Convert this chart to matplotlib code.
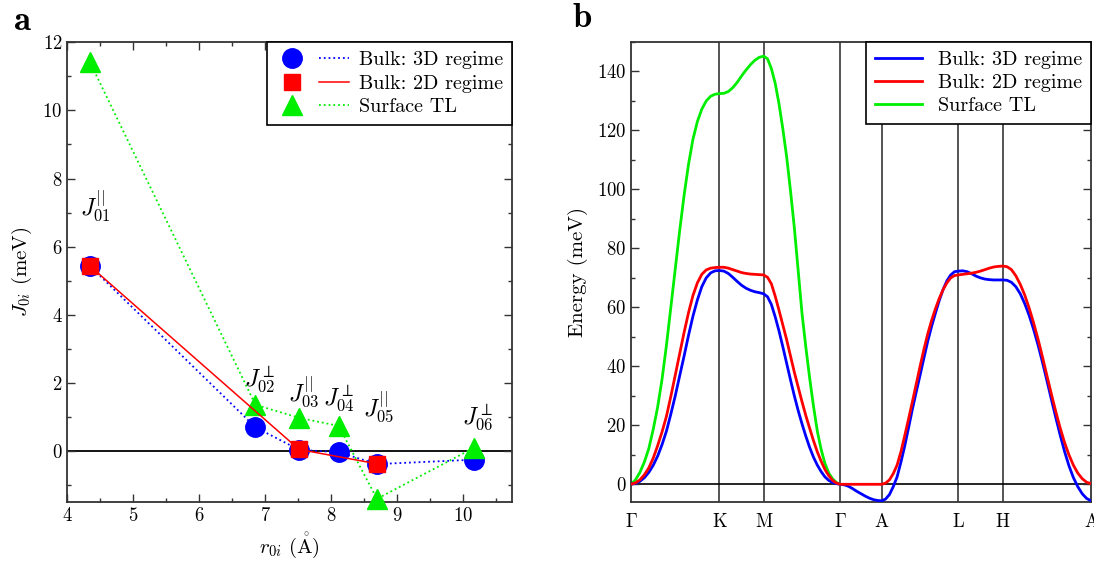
import numpy as np
import matplotlib
matplotlib.use("Agg")
import matplotlib.pyplot as plt
from matplotlib.lines import Line2D
from matplotlib.legend_handler import HandlerTuple
from matplotlib.ticker import MultipleLocator

plt.rcParams["font.family"] = "serif"
plt.rcParams["font.serif"] = ["cmr10"]
plt.rcParams["mathtext.fontset"] = "cm"
plt.rcParams["axes.unicode_minus"] = False
plt.rcParams["axes.formatter.use_mathtext"] = True

# ---- panel a: exchange constants vs distance ----
r_3d = [4.34, 6.85, 7.51, 8.11, 8.69, 10.16]
j_3d = [5.44, 0.70, 0.04, -0.03, -0.38, -0.25]

r_2d = [4.34, 7.51, 8.69]
j_2d = [5.44, 0.05, -0.37]

r_surf = [4.34, 6.85, 7.51, 8.11, 8.69, 10.16]
j_surf = [11.43, 1.36, 0.98, 0.74, -1.40, 0.10]

j_labels = [r"$J_{01}^{||}$", r"$J_{02}^{\perp}$", r"$J_{03}^{||}$",
            r"$J_{04}^{\perp}$", r"$J_{05}^{||}$", r"$J_{06}^{\perp}$"]
j_label_x = [4.42, 6.92, 7.58, 8.11, 8.71, 10.21]
j_label_y = [7.2, 2.1, 1.75, 1.55, 1.3, 1.0]

# ---- panel b: magnon dispersion along the k-path ----
kpath_labels = [r"$\Gamma$", "K", "M", r"$\Gamma$", "A", "L", "H", "A"]
kpath_pos = [0.0, 4.189, 6.283, 9.911, 11.874, 15.502, 17.596, 21.785]

# energies (meV) read along each path segment, evenly spaced in k
bulk3d_segments = [
    [0, 0.3, 1.0, 2.2, 4.0, 6.4, 9.5, 13.4, 18, 23.8, 30, 36.8, 43.5,
     50.5, 57, 62.5, 67, 70, 71.7, 72.4, 72.5],                          # G-K
    [72.5, 72.3, 71.5, 70.2, 68.8, 67.5, 66.5, 65.8, 65.3, 65.0, 64.6],  # K-M
    [64.6, 63.6, 61, 56.8, 52, 46.6, 41, 35.4, 30, 25, 20.5, 16.3, 12.5,
     9.2, 6.5, 4.3, 2.5, 1.3, 0.6, 0.2, 0],                              # M-G
    [0, -0.2, -0.7, -1.5, -2.4, -3.2, -4.0, -4.7, -5.2, -5.5, -5.6],     # G-A
    [-5.6, -5.0, -3.5, -0.8, 2.5, 7.5, 13, 19.2, 25.5, 31.3, 37, 42.8,
     48.5, 53.5, 58, 62.3, 66, 69, 71, 72.1, 72.3],                      # A-L
    [72.3, 72.4, 72.1, 71.4, 70.6, 70.0, 69.6, 69.4, 69.3, 69.3, 69.3],  # L-H
    [69.3, 69.2, 68.5, 67.0, 64.6, 61.3, 57.3, 52.6, 47.3, 41.5, 35.3,
     29.0, 22.8, 16.8, 11.2, 6.3, 2.3, -0.8, -3.2, -4.8, -5.6],          # H-A
]
bulk2d_segments = [
    [0, 0.5, 1.5, 3.2, 5.5, 8.8, 13, 17.7, 23, 29.8, 37, 44.3, 51.5,
     58.2, 64, 68.3, 71.2, 72.7, 73.3, 73.5, 73.6],
    [73.6, 73.6, 73.3, 72.8, 72.3, 71.8, 71.5, 71.3, 71.2, 71.1, 71.0],
    [71.0, 70.2, 68, 63.8, 59, 54, 49, 43.5, 38, 33, 28, 23.3, 19, 14.8,
     11, 7.8, 5, 2.9, 1.3, 0.4, 0],
    [0, 0, 0, 0, 0, 0, 0, 0, 0, 0, 0],
    [0, 0.4, 1.5, 3.6, 6.5, 11, 16.5, 22.2, 28, 34, 40, 45.7, 51, 55.5,
     59.5, 63, 66, 68.3, 70, 70.8, 71],
    [71.0, 71.2, 71.4, 71.6, 71.9, 72.3, 72.8, 73.3, 73.7, 73.9, 74.0],
    [74.0, 73.8, 72.8, 70.7, 67.8, 64.2, 59.8, 54.8, 49.3, 43.3, 37.0,
     30.8, 24.8, 19.2, 14.2, 10.0, 6.5, 3.8, 1.9, 0.7, 0.2],
]
surface_segments = [
    [0, 1.5, 4, 7.5, 12, 18.5, 26, 35.5, 47, 60, 73, 86, 98, 108.5, 117,
     123, 127.2, 130, 131.6, 132.3, 132.5],
    [132.5, 132.6, 133.2, 134.5, 136.3, 138.5, 140.5, 142.3, 143.8, 144.8, 145.2],
    [145.2, 144.3, 141, 136, 129, 120.5, 111, 99.5, 87, 72.5, 58, 46.5, 36,
     26.5, 18, 11.8, 7, 3.8, 1.8, 0.6, 0],
]

BLUE = "#0000ff"
RED = "#ff0000"
GREEN = "#00ee00"


def path_curve(segments):
    ks, es = [], []
    for i, seg in enumerate(segments):
        ks.append(np.linspace(kpath_pos[i], kpath_pos[i + 1], len(seg)))
        es.append(np.array(seg, dtype=float))
    return np.concatenate(ks), np.concatenate(es)


def style_axes(ax):
    for sp in ax.spines.values():
        sp.set_linewidth(1.3)
        sp.set_color("0.2")
    ax.tick_params(which="both", direction="in", top=True, right=True,
                   width=1.0, labelsize=13.5, color="0.2")
    ax.tick_params(which="major", length=6)
    ax.tick_params(which="minor", length=3)


fig = plt.figure(figsize=(10.94, 5.66), dpi=100)
ax_a = fig.add_axes([0.0615, 0.1126, 0.4068, 0.8127])
ax_b = fig.add_axes([0.5768, 0.1131, 0.4205, 0.8127])

# panel a
ax_a.axhline(0, color="black", lw=1.3, zorder=1)
ax_a.plot(r_3d, j_3d, ls=":", lw=1.3, color=BLUE, marker="o", ms=14,
          zorder=2, clip_on=False)
ax_a.plot(r_surf, j_surf, ls=":", lw=1.3, color=GREEN, marker="^", ms=14,
          zorder=3, clip_on=False)
ax_a.plot(r_2d, j_2d, ls="-", lw=1.1, color=RED, marker="s", ms=12,
          zorder=4, clip_on=False)

for lab, x, y in zip(j_labels, j_label_x, j_label_y):
    ax_a.text(x, y, lab, fontsize=17, ha="center", va="center")

ax_a.set_xlim(4, 10.74)
ax_a.set_ylim(-1.5, 12)
ax_a.xaxis.set_major_locator(MultipleLocator(1))
ax_a.xaxis.set_minor_locator(MultipleLocator(0.5))
ax_a.yaxis.set_major_locator(MultipleLocator(2))
ax_a.yaxis.set_minor_locator(MultipleLocator(1))
style_axes(ax_a)
ax_a.set_xlabel(r"$r_{0i}\ (\mathring{\mathrm{A}})$", fontsize=15, labelpad=4)
ax_a.set_ylabel(r"$J_{0i}$ (meV)", fontsize=15, labelpad=6)

leg_handles = [
    (Line2D([], [], ls="none", marker="o", ms=14, color=BLUE),
     Line2D([], [], ls=":", lw=1.3, color=BLUE)),
    (Line2D([], [], ls="none", marker="s", ms=12, color=RED),
     Line2D([], [], ls="-", lw=1.1, color=RED)),
    (Line2D([], [], ls="none", marker="^", ms=14, color=GREEN),
     Line2D([], [], ls=":", lw=1.3, color=GREEN)),
]
leg_a = ax_a.legend(leg_handles, ["Bulk: 3D regime", "Bulk: 2D regime", "Surface TL"],
                    handler_map={tuple: HandlerTuple(ndivide=None, pad=0.6)},
                    loc="upper right", borderaxespad=0, fancybox=False,
                    edgecolor="black", framealpha=1, fontsize=14.5,
                    handlelength=3.6, handletextpad=0.5, labelspacing=0.25,
                    borderpad=0.45)
leg_a.get_frame().set_linewidth(1.2)
leg_a.set_zorder(10)

# panel b
for k in kpath_pos[1:-1]:
    ax_b.axvline(k, color="0.15", lw=1.1, zorder=1)
ax_b.axhline(0, color="black", lw=1.2, zorder=1)

k3, e3 = path_curve(bulk3d_segments)
k2, e2 = path_curve(bulk2d_segments)
ks, es = path_curve(surface_segments)
ax_b.plot(k3, e3, color=BLUE, lw=2.0, label="Bulk: 3D regime", zorder=3)
ax_b.plot(k2, e2, color=RED, lw=2.0, label="Bulk: 2D regime", zorder=4)
ax_b.plot(ks, es, color=GREEN, lw=2.0, label="Surface TL", zorder=2)

ax_b.set_xlim(kpath_pos[0], kpath_pos[-1])
ax_b.set_ylim(-6, 150)
ax_b.yaxis.set_major_locator(MultipleLocator(20))
ax_b.yaxis.set_minor_locator(MultipleLocator(10))
style_axes(ax_b)
ax_b.set_xticks(kpath_pos)
ax_b.set_xticklabels(kpath_labels)
ax_b.tick_params(axis="x", which="both", length=0, pad=8, labelsize=13.5, top=False)
ax_b.set_ylabel("Energy (meV)", fontsize=15, labelpad=6)

leg_b = ax_b.legend(loc="upper right", borderaxespad=0, fancybox=False,
                    edgecolor="black", framealpha=1, fontsize=14.5,
                    handlelength=2.3, handletextpad=0.8, labelspacing=0.25,
                    borderpad=0.45)
leg_b.get_frame().set_linewidth(1.2)

fig.text(0.012, 0.99, r"$\mathbf{a}$", fontsize=25, va="top", ha="left")
fig.text(0.523, 0.995, r"$\mathbf{b}$", fontsize=25, va="top", ha="left")

fig.savefig("out.png", dpi=100)
